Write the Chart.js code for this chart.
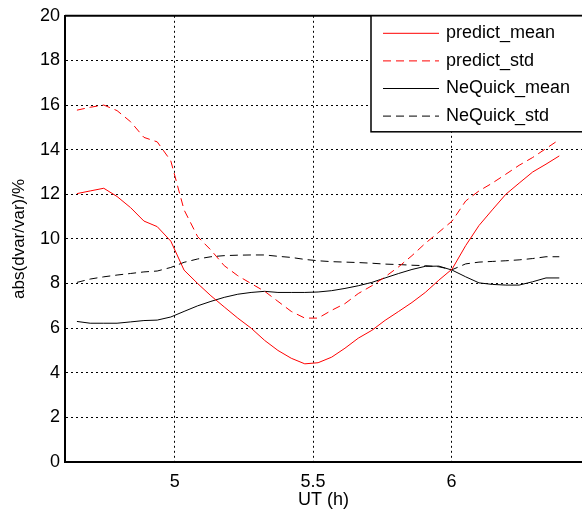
<!DOCTYPE html>
<html lang="en">
<head>
    <meta charset="UTF-8">
    <title>abs(dvar/var) vs UT</title>
    <script src="https://cdn.jsdelivr.net/npm/chart.js"></script>
    <style>
        body { margin: 0; background: #fff; }
        #wrap { width: 582px; height: 511px; position: relative; }
    </style>
</head>
<body>
    <div id="wrap"><canvas id="errChart"></canvas></div>

    <script>
        // values
        const utHours = [4.647, 4.695, 4.744, 4.792, 4.841, 4.889, 4.937, 4.986, 5.034, 5.083,
                         5.131, 5.179, 5.228, 5.276, 5.325, 5.373, 5.421, 5.470, 5.518, 5.567,
                         5.615, 5.663, 5.712, 5.760, 5.809, 5.857, 5.905, 5.954, 6.002, 6.051,
                         6.099, 6.147, 6.196, 6.244, 6.293, 6.341, 6.389];
        const predictMean = [12.03, 12.15, 12.27, 11.9, 11.4, 10.8, 10.55, 9.9, 8.6, 8.0,
                             7.45, 6.95, 6.45, 6.0, 5.45, 5.0, 4.65, 4.4, 4.45, 4.7,
                             5.1, 5.55, 5.9, 6.35, 6.75, 7.15, 7.6, 8.15, 8.65, 9.7,
                             10.6, 11.3, 12.0, 12.5, 13.0, 13.35, 13.72];
        const predictStd = [15.77, 15.9, 16.0, 15.75, 15.25, 14.55, 14.35, 13.5, 11.3, 10.1,
                            9.5, 8.8, 8.35, 8.0, 7.65, 7.2, 6.75, 6.45, 6.45, 6.8,
                            7.1, 7.55, 7.9, 8.3, 8.75, 9.25, 9.8, 10.3, 10.8, 11.7,
                            12.15, 12.5, 12.9, 13.3, 13.65, 14.05, 14.45];
        const nequickMean = [6.3, 6.22, 6.22, 6.22, 6.28, 6.34, 6.36, 6.5, 6.75, 7.0,
                             7.2, 7.38, 7.52, 7.6, 7.65, 7.6, 7.6, 7.6, 7.62, 7.68,
                             7.78, 7.9, 8.05, 8.25, 8.45, 8.63, 8.77, 8.78, 8.6, 8.3,
                             8.03, 7.96, 7.93, 7.93, 8.08, 8.25, 8.25];
        const nequickStd = [8.05, 8.2, 8.3, 8.38, 8.45, 8.52, 8.56, 8.72, 8.95, 9.1,
                            9.2, 9.25, 9.27, 9.28, 9.28, 9.22, 9.17, 9.08, 9.02, 8.98,
                            8.96, 8.94, 8.91, 8.87, 8.85, 8.82, 8.8, 8.75, 8.62, 8.88,
                            8.96, 8.99, 9.02, 9.06, 9.12, 9.2, 9.2];
        const xTicks = [5, 5.5, 6];
        const seriesNames = ['predict_mean', 'predict_std', 'NeQuick_mean', 'NeQuick_std'];

        const FONT = '"Liberation Sans", Arial, Helvetica, sans-serif';

        function pts(ys) {
            return ys.map((y, i) => ({ x: utHours[i], y: y }));
        }

        // top frame + legend box drawn by hand (legend sits in the corner, MATLAB style)
        const frameAndLegend = {
            id: 'frameAndLegend',
            afterDraw(chart) {
                const ctx = chart.ctx;
                const a = chart.chartArea;
                ctx.save();
                ctx.strokeStyle = '#000';
                ctx.lineWidth = 2;
                ctx.beginPath();
                ctx.moveTo(a.left, a.top);
                ctx.lineTo(a.right + 2, a.top);
                ctx.stroke();

                // legend
                const bx = 371, by = a.top, bw = 240, bh = 116;
                ctx.fillStyle = '#fff';
                ctx.fillRect(bx, by, bw, bh);
                ctx.lineWidth = 1.5;
                ctx.strokeRect(bx, by, bw, bh);

                ctx.font = '18px ' + FONT;
                ctx.textBaseline = 'middle';
                ctx.textAlign = 'left';
                chart.data.datasets.forEach((ds, i) => {
                    const y = by + 17.5 + i * 27.6;
                    ctx.strokeStyle = ds.borderColor;
                    ctx.lineWidth = 1;
                    ctx.setLineDash(ds.borderDash || []);
                    ctx.beginPath();
                    ctx.moveTo(383, y);
                    ctx.lineTo(439, y);
                    ctx.stroke();
                    ctx.setLineDash([]);
                    ctx.fillStyle = '#000';
                    ctx.fillText(ds.label, 446, y);
                });
                ctx.restore();
            }
        };

        const ctx = document.getElementById('errChart').getContext('2d');
        new Chart(ctx, {
            type: 'line',
            data: {
                datasets: [
                    { label: seriesNames[0], data: pts(predictMean), borderColor: '#ff0000', borderWidth: 1 },
                    { label: seriesNames[1], data: pts(predictStd), borderColor: '#ff0000', borderWidth: 1, borderDash: [8, 5] },
                    { label: seriesNames[2], data: pts(nequickMean), borderColor: '#000000', borderWidth: 1 },
                    { label: seriesNames[3], data: pts(nequickStd), borderColor: '#000000', borderWidth: 1, borderDash: [8, 5] }
                ]
            },
            options: {
                responsive: true,
                maintainAspectRatio: false,
                animation: false,
                layout: { padding: { top: 15, right: 0, left: 0, bottom: 0 } },
                elements: { point: { radius: 0 }, line: { tension: 0 } },
                plugins: {
                    legend: { display: false },
                    tooltip: { enabled: false }
                },
                scales: {
                    x: {
                        type: 'linear',
                        min: 4.604,
                        max: 6.471,
                        afterBuildTicks: s => { s.ticks = xTicks.map(v => ({ value: v })); },
                        afterFit: s => { s.height = 49; },
                        ticks: { color: '#000', padding: 9, font: { family: FONT, size: 18 },
                                 callback: v => String(v) },
                        grid: { color: '#000', lineWidth: 1, drawTicks: false },
                        border: { display: true, color: '#000', width: 2, dash: [2, 3] },
                        title: { display: true, text: 'UT (h)', color: '#000', padding: { top: 0, bottom: 0 },
                                 font: { family: FONT, size: 18 } }
                    },
                    y: {
                        min: 0,
                        max: 20,
                        ticks: { stepSize: 2, color: '#000', padding: 5, font: { family: FONT, size: 18 } },
                        afterFit: s => { s.width = 65; },
                        grid: { color: '#000', lineWidth: 1, drawTicks: false },
                        border: { display: true, color: '#000', width: 2, dash: [2, 3] },
                        title: { display: true, text: 'abs(dvar/var)/%', color: '#000', padding: { top: 9, bottom: 0 },
                                 font: { family: FONT, size: 17 } }
                    }
                }
            },
            plugins: [frameAndLegend]
        });
    </script>
</body>
</html>
